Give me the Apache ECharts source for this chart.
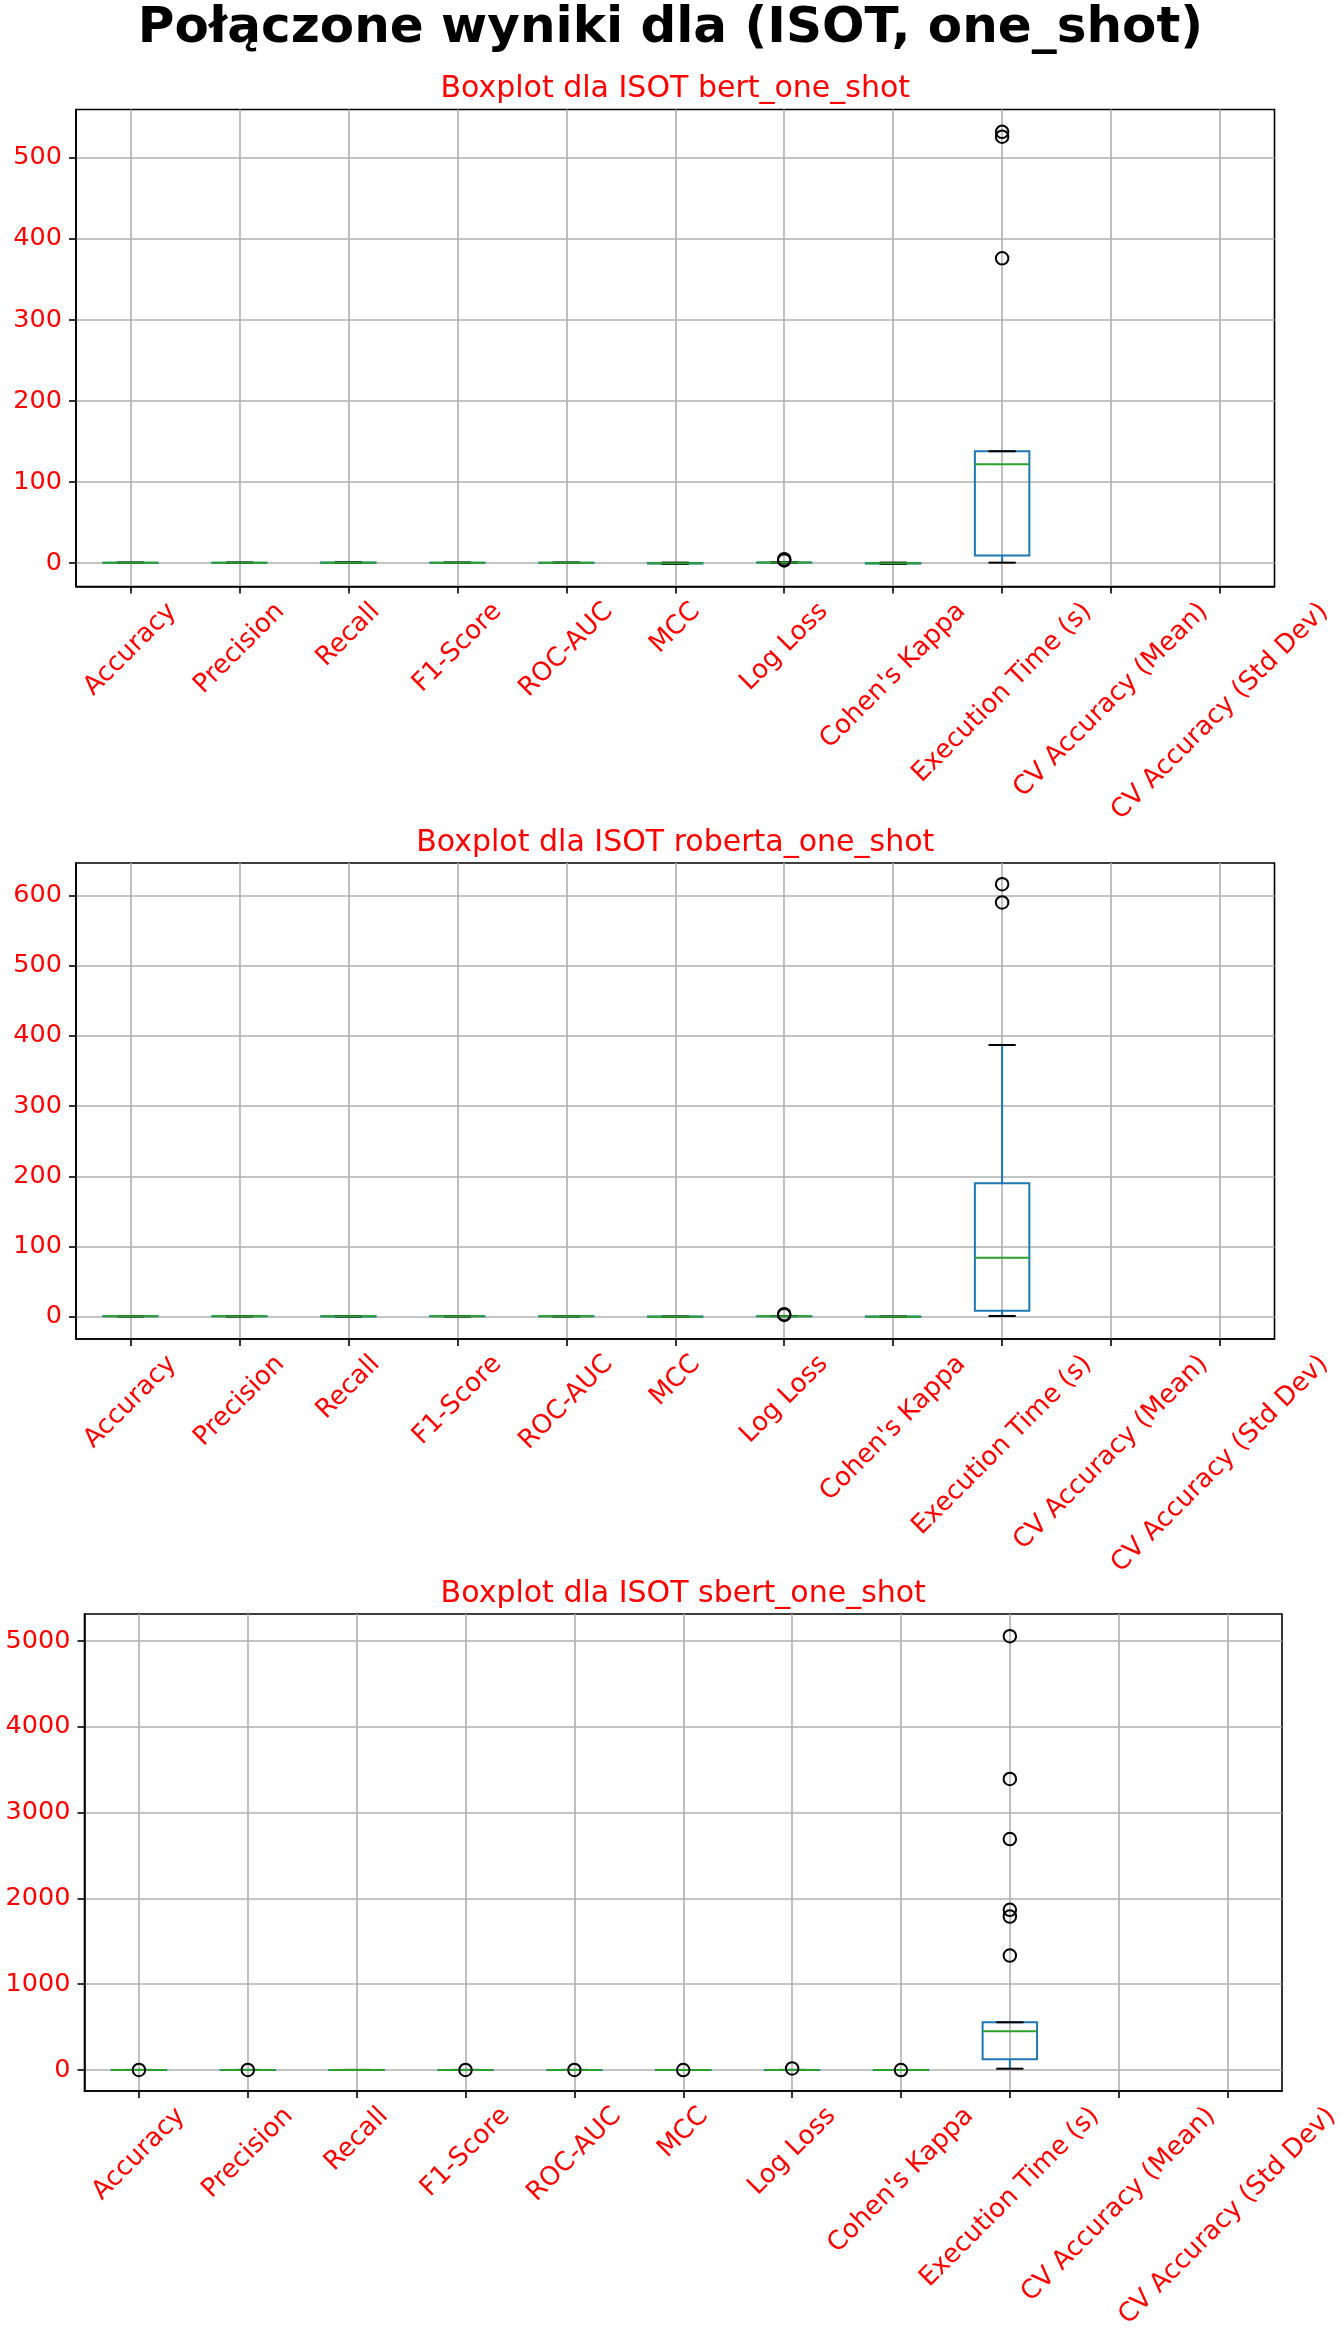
<!DOCTYPE html>
<html>
<head>
<meta charset="utf-8">
<script src="https://cdn.jsdelivr.net/npm/echarts@6/dist/echarts.min.js"></script>
<style>
html,body{margin:0;padding:0;background:#fff;}
#chart{width:1341px;height:2334px;}
</style>
</head>
<body>
<div id="chart"></div>
<script>
// ---------------- DATA ----------------
const mainTitle = 'Połączone wyniki dla (ISOT, one_shot)';
const subTitles = ['Boxplot dla ISOT bert_one_shot', 'Boxplot dla ISOT roberta_one_shot', 'Boxplot dla ISOT sbert_one_shot'];
const categories = ['Accuracy', 'Precision', 'Recall', 'F1-Score', 'ROC-AUC', 'MCC', 'Log Loss', "Cohen's Kappa", 'Execution Time (s)', 'CV Accuracy (Mean)', 'CV Accuracy (Std Dev)'];

// box statistics per category: [lower whisker, Q1, median, Q3, upper whisker]; null = no data
const bertStats = [
  [0.45, 0.49, 0.51, 0.53, 0.56],
  [0.30, 0.45, 0.50, 0.55, 0.70],
  [0.20, 0.40, 0.50, 0.60, 0.90],
  [0.30, 0.45, 0.50, 0.55, 0.70],
  [0.45, 0.49, 0.50, 0.52, 0.56],
  [-1.0, -0.6, -0.1, 0.2, 0.6],
  [0.69, 0.70, 0.71, 0.75, 0.95],
  [-1.0, -0.6, -0.1, 0.2, 0.6],
  [0.5, 9.4, 122, 138, 138],
  null,
  null
];
// outliers: [category index, value]
const bertFliers = [[6, 3.2], [6, 4.8], [8, 376], [8, 526], [8, 532]];

const robertaStats = [
  [0.45, 0.49, 0.51, 0.53, 0.56],
  [0.30, 0.45, 0.50, 0.55, 0.70],
  [0.20, 0.40, 0.50, 0.60, 0.90],
  [0.30, 0.45, 0.50, 0.55, 0.70],
  [0.45, 0.49, 0.50, 0.52, 0.56],
  [-0.5, -0.2, 0.0, 0.1, 0.3],
  [0.69, 0.70, 0.71, 0.75, 0.95],
  [-0.5, -0.2, 0.0, 0.1, 0.3],
  [1, 8.6, 84, 190, 387],
  null,
  null
];
const robertaFliers = [[6, 2.5], [6, 3.6], [8, 590], [8, 616]];

const sbertStats = [
  [0.48, 0.50, 0.51, 0.52, 0.54],
  [0.45, 0.50, 0.51, 0.52, 0.56],
  [0.20, 0.40, 0.50, 0.60, 0.90],
  [0.45, 0.50, 0.51, 0.52, 0.56],
  [0.48, 0.50, 0.51, 0.52, 0.54],
  [-0.04, -0.01, 0.01, 0.02, 0.05],
  [0.69, 0.70, 0.71, 0.72, 0.74],
  [-0.04, -0.01, 0.01, 0.02, 0.05],
  [15, 125, 451, 556, 556],
  null,
  null
];
const sbertFliers = [[0, 0.2], [1, 0.1], [3, 0.1], [4, 0.3], [5, -0.3], [6, 18], [7, -0.3],
  [8, 1334], [8, 1789], [8, 1867], [8, 2692], [8, 3392], [8, 5056]];

// y axis ranges and tick labels
const yRanges = [[-28.9, 559.6], [-31.8, 646.2], [-245, 5315]];
const yTicks = [[0, 100, 200, 300, 400, 500], [0, 100, 200, 300, 400, 500, 600], [0, 1000, 2000, 3000, 4000, 5000]];
const xTicks = [1, 2, 3, 4, 5, 6, 7, 8, 9, 10, 11];

// ---------------- STYLE / LAYOUT ----------------
const allStats = [bertStats, robertaStats, sbertStats];
const allFliers = [bertFliers, robertaFliers, sbertFliers];
const grids = [
  {left: 76, top: 109.5, width: 1198.5, height: 477},
  {left: 76, top: 863, width: 1198.5, height: 476},
  {left: 84.5, top: 1614, width: 1197.5, height: 477}
];
const subTitleTops = [74, 828, 1579];
const FONT = '"DejaVu Sans", "Liberation Sans", sans-serif';
const XTICK_FS = 26;
const YTICK_FS = 25.5;
const RED = '#ff0000';
const BLUE = '#1f77b4';
const GREEN = '#2ca02c';
const GRIDC = '#b0b0b0';
const LW = 2;

// measure label widths for diagonal centred layout
const ctx = document.createElement('canvas').getContext('2d');
ctx.font = XTICK_FS + 'px "DejaVu Sans"';
const rich = {};
categories.forEach((c, i) => {
  const L = ctx.measureText(c).width;
  rich['p' + (i + 1)] = {
    fontSize: XTICK_FS, fontFamily: FONT, color: RED,
    padding: [L / 2, L / 2, 0, 0]
  };
});

function renderBox(params, api) {
  const x = api.value(0);
  const lo = api.value(1), q1 = api.value(2), med = api.value(3), q3 = api.value(4), hi = api.value(5);
  const cx = api.coord([x, med])[0];
  const yLo = api.coord([x, lo])[1];
  const yQ1 = api.coord([x, q1])[1];
  const yMed = api.coord([x, med])[1];
  const yQ3 = api.coord([x, q3])[1];
  const yHi = api.coord([x, hi])[1];
  const unit = api.size([1, 0])[0];
  const hw = unit * 0.25;
  const cw = unit * 0.125;
  return {
    type: 'group',
    children: [
      {type: 'rect', shape: {x: cx - hw, y: yQ3, width: 2 * hw, height: Math.max(yQ1 - yQ3, 0.01)},
        style: {fill: null, stroke: BLUE, lineWidth: LW}},
      {type: 'line', shape: {x1: cx, y1: yQ1, x2: cx, y2: yLo}, style: {stroke: BLUE, lineWidth: LW}},
      {type: 'line', shape: {x1: cx, y1: yQ3, x2: cx, y2: yHi}, style: {stroke: BLUE, lineWidth: LW}},
      {type: 'line', shape: {x1: cx - cw, y1: yLo, x2: cx + cw, y2: yLo}, style: {stroke: '#000', lineWidth: LW}},
      {type: 'line', shape: {x1: cx - cw, y1: yHi, x2: cx + cw, y2: yHi}, style: {stroke: '#000', lineWidth: LW}},
      {type: 'line', shape: {x1: cx - hw, y1: yMed, x2: cx + hw, y2: yMed}, style: {stroke: GREEN, lineWidth: LW}}
    ]
  };
}

const option = {
  animation: false,
  backgroundColor: '#fff',
  title: [
    {text: mainTitle, left: 'center', top: 4, padding: 0,
      textStyle: {fontFamily: FONT, fontSize: 50, fontWeight: 'bold', color: '#000'}}
  ].concat(subTitles.map((t, i) => ({
    text: t, left: grids[i].left + grids[i].width / 2, textAlign: 'center', top: subTitleTops[i], padding: 0,
    textStyle: {fontFamily: FONT, fontSize: 30, fontWeight: 'normal', color: RED}
  }))),
  grid: grids.map(g => Object.assign({
    show: true, borderColor: '#000', borderWidth: 1.6, backgroundColor: 'transparent',
    containLabel: false, outerBoundsMode: 'none'
  }, g)),
  xAxis: grids.map((g, i) => ({
    type: 'value', gridIndex: i, min: 0.5, max: 11.5, minInterval: 1, maxInterval: 1,
    axisLine: {show: true, onZero: false, lineStyle: {color: '#000', width: 1.6}},
    axisTick: {show: true, length: 7, inside: false, lineStyle: {color: '#000', width: 1.6}, customValues: xTicks},
    splitLine: {show: true, showMinLine: true, showMaxLine: true, lineStyle: {color: GRIDC, width: 1.6}},
    axisLabel: {
      show: true, rotate: 45, align: 'center', verticalAlign: 'middle', margin: 21,
      customValues: xTicks, hideOverlap: false,
      fontSize: XTICK_FS, fontFamily: FONT, color: RED,
      formatter: v => {
        const k = Math.round(v);
        if (Math.abs(v - k) > 1e-6 || k < 1 || k > categories.length) return '';
        return '{p' + k + '|' + categories[k - 1] + '}';
      },
      rich: rich
    }
  })),
  yAxis: grids.map((g, i) => ({
    type: 'value', gridIndex: i, min: yRanges[i][0], max: yRanges[i][1],
    minInterval: yTicks[i][1] - yTicks[i][0], maxInterval: yTicks[i][1] - yTicks[i][0],
    axisLine: {show: true, onZero: false, lineStyle: {color: '#000', width: 1.6}},
    axisTick: {show: true, length: 7, inside: false, lineStyle: {color: '#000', width: 1.6}, customValues: yTicks[i]},
    splitLine: {show: true, showMinLine: true, showMaxLine: true, lineStyle: {color: GRIDC, width: 1.6}},
    axisLabel: {
      show: true, margin: 14, customValues: yTicks[i], fontSize: YTICK_FS, fontFamily: FONT, color: RED,
      showMinLabel: true, showMaxLabel: true,
      formatter: v => (yTicks[i].indexOf(Math.round(v)) >= 0 && Math.abs(v - Math.round(v)) < 1e-6) ? String(Math.round(v)) : ''
    }
  })),
  series: []
};

allStats.forEach((stats, i) => {
  const boxData = [];
  stats.forEach((s, k) => { if (s) boxData.push([k + 1].concat(s)); });
  option.series.push({
    type: 'custom', xAxisIndex: i, yAxisIndex: i, z: 2,
    renderItem: renderBox, data: boxData,
    encode: {x: 0, y: [1, 2, 3, 4, 5]}, silent: true
  });
  option.series.push({
    type: 'scatter', xAxisIndex: i, yAxisIndex: i, z: 3,
    symbol: 'circle', symbolSize: 12.5,
    itemStyle: {color: 'rgba(0,0,0,0)', borderColor: '#000', borderWidth: 2, opacity: 1},
    data: allFliers[i].map(f => [f[0] + 1, f[1]]), silent: true
  });
});

const chart = echarts.init(document.getElementById('chart'), null, {renderer: 'canvas'});
chart.setOption(option);
</script>
</body>
</html>
